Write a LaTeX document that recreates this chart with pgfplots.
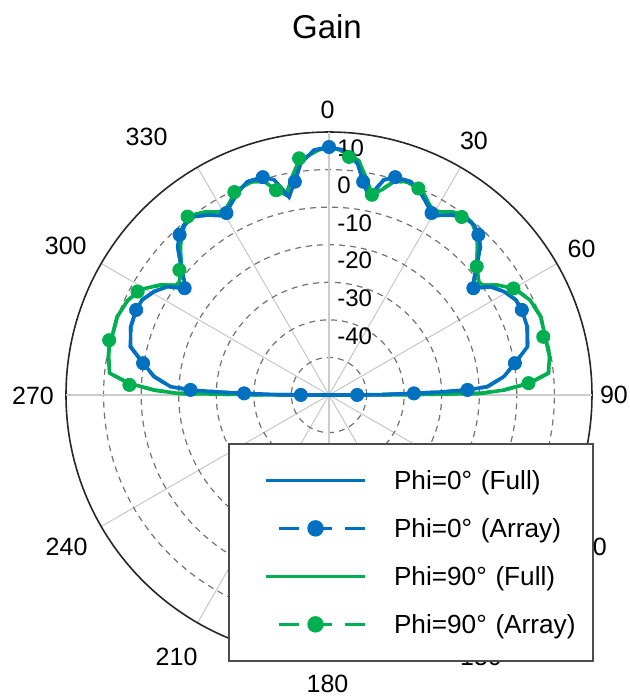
\documentclass[border=0pt]{standalone}
\usepackage{fontspec}
\setmainfont{Liberation Sans}
\usepackage{pgfplots}
\usepackage{pgfplotstable}
\pgfplotsset{compat=1.18}
\usepgfplotslibrary{polar}
\definecolor{cblue}{HTML}{0070C0}
\definecolor{cgreen}{HTML}{00B050}
\newcommand\lfont{\fontsize{13.1}{15.6}\selectfont}
\newcommand\tfont{\fontsize{12.5}{15}\selectfont}
\newcommand\rfont{\fontsize{12}{14.4}\selectfont}

% t = angle from the top (deg, clockwise), g = gain (dB)
\pgfplotstableread{
t g
-90 -50
-89.9 -42.5
-89.5 -35.4
-88.9 -27.4
-88.5 -20.7
-87.9 -13.1
-87 -7.8
-84 -3.2
-80.3 0.2
-76.3 4.4
-71 5.8
-66.2 6.1
-63 5.8
-59.4 4.1
-56.2 1.8
-53.5 -2.2
-51.6 -0.8
-48.4 2.8
-45.6 6.4
-43 8.3
-40.5 9.5
-37.1 9.5
-34 7.8
-30.5 5.4
-29.4 5.6
-27.4 7.0
-24.4 9.0
-21 10.8
-16.9 10.6
-14.3 9.1
-11.4 3.8
-9.1 7.5
-7 12.1
-3.5 15.3
0 16.0
3.5 15.3
7 12.1
9.1 7.5
11.4 3.8
14.3 9.1
16.9 10.6
21 10.8
24.4 9.0
27.4 7.0
29.4 5.6
30.5 5.4
34 7.8
37.1 9.5
40.5 9.5
43 8.3
45.6 6.4
48.4 2.8
51.6 -0.8
53.5 -2.2
56.2 1.8
59.4 4.1
63 5.8
66.2 6.1
71 5.8
76.3 4.4
80.3 0.2
84 -3.2
87 -7.8
87.9 -13.1
88.5 -20.7
88.9 -27.4
89.5 -35.4
89.9 -42.5
90 -50
}\blueFull

\pgfplotstableread{
t g
-89.9 -42.5
-88.9 -27.4
-87.9 -13.1
-80.3 0.2
-66.2 6.1
-53.5 -2.2
-43 8.3
-29.4 5.6
-16.9 10.6
-9.1 7.5
0 16.0
9.1 7.5
16.9 10.6
29.4 5.6
43 8.3
53.5 -2.2
66.2 6.1
80.3 0.2
87.9 -13.1
88.9 -27.4
89.9 -42.5
}\blueArray

\pgfplotstableread{
t g
-90 -50
-89.8 -30
-89.4 -9.8
-88.4 -3.5
-86.6 3.5
-84.3 8.7
-80 9.6
-76 10.1
-74.8 9.8
-69.7 10.1
-64.8 9.2
-61.6 7.7
-60 6.7
-56.8 3.5
-54.5 0.3
-53 -0.1
-51 1.0
-49 2.1
-45.7 5.2
-43 7.8
-40 9.5
-38.5 10.2
-37 10.0
-34 8.8
-31.4 7.1
-29.5 6.4
-27.5 7.5
-25 9.4
-23.4 9.9
-20 10.4
-17 9.5
-14.5 6.5
-12.1 4.5
-9.5 9.0
-7.2 13.0
-4.8 14.0
-2.5 15.3
0 16.0
2.5 15.3
4.8 14.0
7.2 12.9
9.5 9.0
12.1 4.5
14.5 6.5
17 9.5
20 10.4
23.4 9.9
25 9.4
27.5 7.5
29.5 6.4
31.4 7.1
34 8.8
37 9.8
40 9.5
43 7.8
45.7 5.2
49 2.1
51 1.0
53 -0.1
54.5 0.3
56.8 3.5
60 6.7
61.6 7.6
64.8 9.2
69.7 10.1
74.8 9.6
80 9.6
84.3 8.7
86.6 3.5
88.4 -3.5
89.4 -9.8
89.8 -30
90 -50
}\greenFull

\pgfplotstableread{
t g
-87.1 3.2
-76 10.3
-61.6 7.9
-50.1 1.9
-38.4 10.6
-25 9.6
-14.5 6.3
-7.2 13.5
4.8 13.6
12.1 4.5
23.4 9.9
36.7 9.1
49 2.1
60 6.7
74.8 9.1
86.6 3.2
}\greenArray

\begin{document}
\begin{tikzpicture}[lbl/.style={font=\tfont, inner sep=0pt, anchor=center},
                    rl/.style={font=\rfont, inner sep=0pt, anchor=west, xshift=4pt, yshift=10.8pt}]
\begin{polaraxis}[
  scale only axis, width=263pt, height=263pt,
  xmin=0, xmax=360, ymin=0, ymax=70,
  xtick={0,30,...,330}, ytick={10,20,...,60},
  xticklabel=\empty, yticklabel=\empty,
  major tick length=0pt,
  xmajorgrids, ymajorgrids,
  x grid style={black!22, line width=0.5pt},
  y grid style={black!55, line width=0.6pt, dash pattern=on 3pt off 2.5pt},
  x axis line style={black!85, line width=0.8pt},
  y axis line style={draw=none},
  clip=false,
  legend cell align=left,
  legend style={at={(axis description cs:0.308,0.409)}, anchor=north west,
    draw=black!70, line width=1pt, fill=white,
    inner xsep=0pt, inner ysep=6.25pt, row sep=0pt, column sep=0pt,
    font=\lfont,
    nodes={inner sep=0pt, text height=9.4pt, text depth=0pt, text width=99.5pt, align=left}},
  legend image code/.code={
    \path[draw=none, fill=none] (-18.5pt,-12pt) rectangle (64pt,12pt);
    \draw[mark repeat=2,mark phase=2,#1] plot coordinates {(0pt,0pt) (24.75pt,0pt) (49.5pt,0pt)};
  },
]
\coordinate (C) at (axis cs:0,0);
% main axes (thicker light spokes)
\draw[black!20, line width=1.4pt] (axis cs:0,70) -- (axis cs:180,70);
\draw[black!20, line width=1.4pt] (axis cs:90,70) -- (axis cs:270,70);

\addplot[cgreen, line width=1.8pt, forget plot] table[x expr=90-(\thisrow{t}), y expr=\thisrow{g}+50] {\greenFull};
\addplot[cgreen, line width=1.8pt, dash pattern=on 10pt off 6.5pt, forget plot] table[x expr=90-(\thisrow{t}), y expr=\thisrow{g}+50] {\greenFull};
\addplot[cgreen, only marks, mark=*, mark size=3.3pt, forget plot] table[x expr=90-(\thisrow{t}), y expr=\thisrow{g}+50] {\greenArray};
\addplot[cblue, line width=1.8pt, forget plot] table[x expr=90-(\thisrow{t}), y expr=\thisrow{g}+50] {\blueFull};
\addplot[cblue, line width=1.8pt, dash pattern=on 10pt off 6.5pt, forget plot] table[x expr=90-(\thisrow{t}), y expr=\thisrow{g}+50] {\blueFull};
\addplot[cblue, only marks, mark=*, mark size=3.3pt, forget plot] table[x expr=90-(\thisrow{t}), y expr=\thisrow{g}+50] {\blueArray};

% angle labels
\node[lbl, xshift=-0.75pt, yshift=142.5pt] at (axis cs:0,0) {0};
\node[lbl, xshift=72.5pt, yshift=127pt] at (axis cs:0,0) {30};
\node[lbl, xshift=126.3pt, yshift=73pt] at (axis cs:0,0) {60};
\node[lbl, xshift=142.5pt, yshift=0pt] at (axis cs:0,0) {90};
\node[lbl, xshift=128.5pt, yshift=-76pt] at (axis cs:0,0) {120};
\node[lbl, xshift=76pt, yshift=-131pt] at (axis cs:0,0) {150};
\node[lbl, xshift=-0.75pt, yshift=-144.5pt] at (axis cs:0,0) {180};
\node[lbl, xshift=-76.2pt, yshift=-130.9pt] at (axis cs:0,0) {210};
\node[lbl, xshift=-131.2pt, yshift=-75.9pt] at (axis cs:0,0) {240};
\node[lbl, xshift=-148pt, yshift=-0.5pt] at (axis cs:0,0) {270};
\node[lbl, xshift=-131.6pt, yshift=74.6pt] at (axis cs:0,0) {300};
\node[lbl, xshift=-91.2pt, yshift=129.2pt] at (axis cs:0,0) {330};
% radial labels
\node[rl] at (axis cs:90,60) {10};
\node[rl] at (axis cs:90,50) {0};
\node[rl] at (axis cs:90,40) {-10};
\node[rl] at (axis cs:90,30) {-20};
\node[rl] at (axis cs:90,20) {-30};
\node[rl] at (axis cs:90,10) {-40};

\addlegendimage{cblue, line width=1.6pt}
\addlegendentry{Phi=0° (Full)}
\addlegendimage{cblue, line width=1.6pt, dash pattern=on 10pt off 6.5pt, dash phase=10pt, mark=*, mark size=3.3pt, mark options={solid}}
\addlegendentry{Phi=0° (Array)}
\addlegendimage{cgreen, line width=1.6pt}
\addlegendentry{Phi=90° (Full)}
\addlegendimage{cgreen, line width=1.6pt, dash pattern=on 10pt off 6.5pt, dash phase=10pt, mark=*, mark size=3.3pt, mark options={solid}}
\addlegendentry{Phi=90° (Array)}
\end{polaraxis}
\node[inner sep=0pt, font=\fontsize{16.5}{20}\selectfont] at ([shift={(-1pt,184pt)}]C) {Gain};
\pgfresetboundingbox
\path ([shift={(-164.5pt,-151.5pt)}]C) rectangle ([shift={(150pt,197.5pt)}]C);
\end{tikzpicture}
\end{document}
